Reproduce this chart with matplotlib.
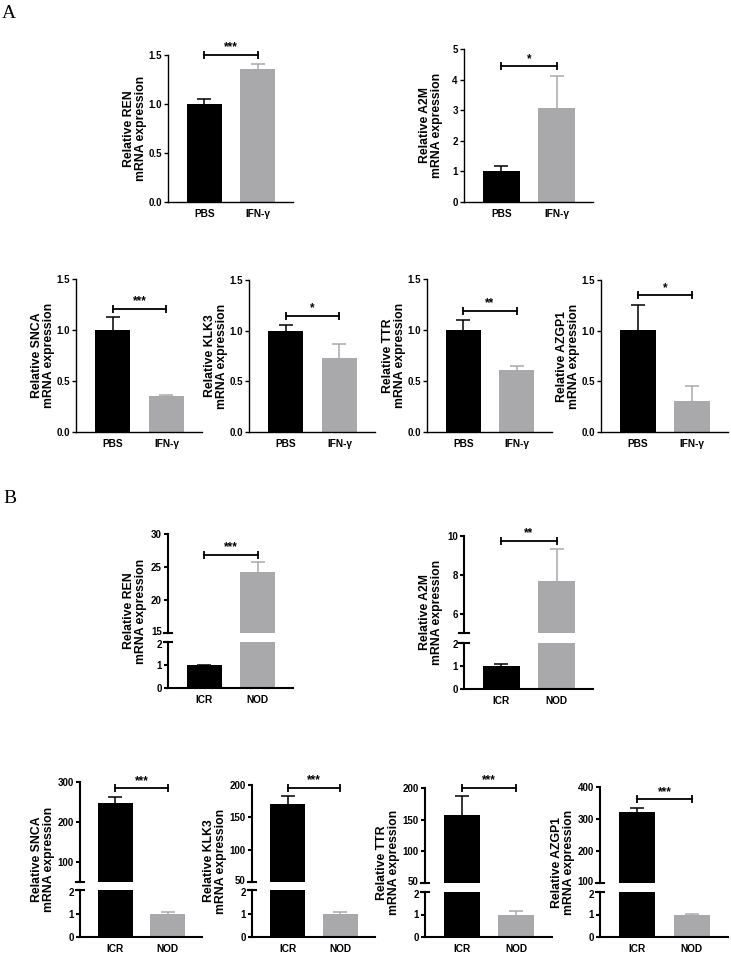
import matplotlib
matplotlib.use('Agg')
import matplotlib.pyplot as plt
from matplotlib import font_manager
from matplotlib.transforms import ScaledTranslation

# fonts: narrow sans if present (GraphPad look), serif for panel letters
names = {f.name for f in font_manager.fontManager.ttflist}
sans = 'Liberation Sans Narrow' if 'Liberation Sans Narrow' in names else 'Liberation Sans'
plt.rcParams['font.family'] = [sans, 'DejaVu Sans']
plt.rcParams['font.weight'] = 'bold'

W, H = 731, 956
GRAY = '#a9a9ac'

genes = ['REN', 'A2M', 'SNCA', 'KLK3', 'TTR', 'AZGP1']

# panel A: PBS vs IFN-g
groups_a = ['PBS', 'IFN-γ']
a_mean_pbs = [1.0, 1.0, 1.0, 1.0, 1.0, 1.01]
a_err_pbs = [0.055, 0.18, 0.13, 0.055, 0.10, 0.24]
a_mean_ifn = [1.36, 3.07, 0.35, 0.73, 0.61, 0.31]
a_err_ifn = [0.045, 1.04, 0.012, 0.14, 0.04, 0.14]
a_sig = ['***', '*', '***', '*', '**', '*']
a_sig_y = [1.5, 4.43, 1.21, 1.145, 1.19, 1.35]
a_ymax = [1.5, 5, 1.5, 1.5, 1.5, 1.5]
a_ticks = [[0.0, 0.5, 1.0, 1.5], [0, 1, 2, 3, 4, 5], [0.0, 0.5, 1.0, 1.5],
           [0.0, 0.5, 1.0, 1.5], [0.0, 0.5, 1.0, 1.5], [0.0, 0.5, 1.0, 1.5]]
a_fmt = ['{:.1f}', '{:.0f}', '{:.1f}', '{:.1f}', '{:.1f}', '{:.1f}']

# panel B: ICR vs NOD (broken axis)
groups_b = ['ICR', 'NOD']
b_mean_icr = [1.0, 1.0, 248, 170.5, 158, 323]
b_err_icr = [0.02, 0.09, 15, 13, 30, 10.5]
b_mean_nod = [24.3, 7.7, 1.0, 1.0, 1.0, 1.0]
b_err_nod = [1.4, 1.62, 0.05, 0.05, 0.16, 0.04]
b_sig = ['***', '**', '***', '***', '***', '***']
b_sig_y = [26.85, 9.76, 284, 195.5, 200.5, 362]
b_break = [15, 5, 50, 50, 50, 100]
b_ymax = [30, 10, 300, 200, 200, 400]
b_ticks = [[15, 20, 25, 30], [5, 6, 8, 10], [50, 100, 200, 300],
           [50, 100, 150, 200], [50, 100, 150, 200], [100, 200, 300, 400]]
b_hide = [[], [5], [50], [], [], []]

# layout in pixels: left, right, top, bottom
a_boxes = [(168, 293, 55, 202), (464, 593, 49, 202),
           (76, 202, 279, 432), (249, 375, 280, 432),
           (427, 552, 279, 432), (601, 728, 280, 432)]
# left, right, upper top, upper bottom, lower top, lower bottom
b_boxes = [(168, 293, 534, 633, 642, 688), (464, 593, 536, 633, 643, 689),
           (80, 202, 782, 882, 890, 937), (252, 375, 785, 882, 890, 937),
           (425, 552, 788, 883, 892, 937), (600, 728, 787, 883, 892, 937)]
b_label_off = [33, 33, 37, 37, 37, 37]

fig = plt.figure(figsize=(W / 100, H / 100), dpi=100)
fig.patch.set_facecolor('white')


def add_ax(l, r, t, b):
    return fig.add_axes([l / W, 1 - b / H, (r - l) / W, (b - t) / H])


def style(ax, lw):
    for s in ['top', 'right']:
        ax.spines[s].set_visible(False)
    for s in ['left', 'bottom']:
        ax.spines[s].set_linewidth(lw)
    ax.tick_params(axis='y', length=3, width=lw, labelsize=7, pad=1.5)
    ax.tick_params(axis='x', length=0, labelsize=7.3, pad=5)
    ax.set_xlim(-0.68, 1.66)


def nudge(label, dy):
    # shift a tick label a few pixels up/down so break labels don't collide
    label.set_transform(label.get_transform() + ScaledTranslation(0, dy / 100, fig.dpi_scale_trans))


def draw_bars(ax, means, errs):
    cols = ['black', GRAY]
    for i in range(2):
        ax.bar(i, means[i], width=0.66, color=cols[i], zorder=2)
        eb = ax.errorbar(i, means[i], yerr=[[0], [errs[i]]], fmt='none',
                         ecolor=cols[i], elinewidth=1.1, capsize=5, capthick=1.1, zorder=1)
        eb[1][0].set_visible(False)  # only the upper cap


def draw_sig(ax, y, text):
    ax.plot([0, 1], [y, y], color='black', lw=1.3, marker='|', ms=6, mew=1.3,
            clip_on=False, zorder=3)
    ax.annotate(text, (0.5, y), xytext=(0, 1), textcoords='offset points',
                ha='center', va='bottom', fontsize=8.5, fontweight='bold')


def ylabel(x, t, b, gene):
    fig.text(x / W, 1 - (t + b) / 2 / H, 'Relative ' + gene + '\nmRNA expression',
             rotation=90, ha='center', va='center', fontsize=8.8, fontweight='bold',
             linespacing=1.05)


# ---- panel A ----
for k in range(6):
    l, r, t, b = a_boxes[k]
    ax = add_ax(l, r, t, b)
    style(ax, 1.0)
    draw_bars(ax, [a_mean_pbs[k], a_mean_ifn[k]], [a_err_pbs[k], a_err_ifn[k]])
    ax.set_ylim(0, a_ymax[k])
    ax.set_yticks(a_ticks[k])
    ax.set_yticklabels([a_fmt[k].format(v) for v in a_ticks[k]])
    ax.set_xticks([0, 1])
    ax.set_xticklabels(groups_a)
    draw_sig(ax, a_sig_y[k], a_sig[k])
    ylabel(l - 33, t, b, genes[k])

# ---- panel B ----
for k in range(6):
    l, r, ut, ub, lt, lb = b_boxes[k]
    means = [b_mean_icr[k], b_mean_nod[k]]
    errs = [b_err_icr[k], b_err_nod[k]]

    top = add_ax(l, r, ut, ub)
    style(top, 1.5)
    top.spines['bottom'].set_visible(False)
    draw_bars(top, means, errs)
    top.set_ylim(b_break[k], b_ymax[k])
    top.set_yticks(b_ticks[k])
    top.set_yticklabels(['' if v in b_hide[k] else str(v) for v in b_ticks[k]])
    nudge(top.get_yticklabels()[0], 2)
    top.set_xticks([])
    top.plot([-0.035, 0.035], [0, 0], color='black', lw=1.5,
             transform=top.transAxes, clip_on=False)
    draw_sig(top, b_sig_y[k], b_sig[k])

    low = add_ax(l, r, lt, lb)
    style(low, 1.5)
    draw_bars(low, means, errs)
    low.set_ylim(0, 2)
    low.set_yticks([0, 1, 2])
    low.set_yticklabels(['0', '1', '2'])
    nudge(low.get_yticklabels()[2], -1.5)
    low.set_xticks([0, 1])
    low.set_xticklabels(groups_b)
    low.plot([-0.035, 0.035], [1, 1], color='black', lw=1.5,
             transform=low.transAxes, clip_on=False)

    ylabel(l - b_label_off[k], ut, lb, genes[k])

fig.text(2 / W, 1 - 18 / H, 'A', family=['Liberation Serif', 'DejaVu Serif'],
         fontsize=14, fontweight='normal', ha='left', va='baseline')
fig.text(3 / W, 1 - 503 / H, 'B', family=['Liberation Serif', 'DejaVu Serif'],
         fontsize=14, fontweight='normal', ha='left', va='baseline')

fig.savefig('out.png', dpi=100, facecolor='white')
